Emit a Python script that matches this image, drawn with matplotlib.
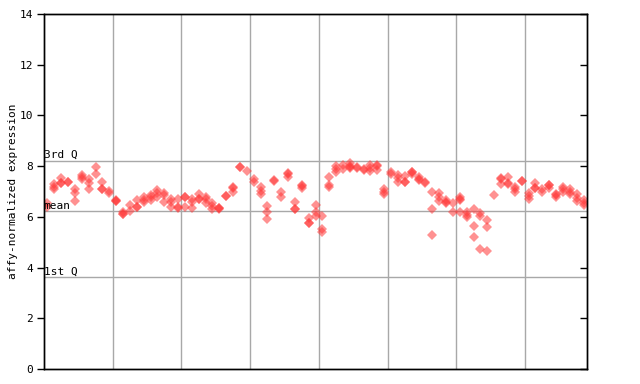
import numpy as np
import matplotlib
matplotlib.use('Agg')
import matplotlib.pyplot as plt

# expression values per sample (replicates)
samples = [
    [6.53, 6.37], [7.28, 7.18, 7.1], [7.52, 7.35, 7.35], [7.39, 7.39],
    [7.09, 6.95, 6.62], [7.65, 7.58, 7.48], [7.48, 7.32, 7.09], [7.98, 7.69],
    [7.36, 7.1, 7.1], [7.03, 6.93], [6.66, 6.62, 6.62], [6.19, 6.1, 6.12],
    [6.47, 6.22], [6.66, 6.4, 6.4], [6.79, 6.66, 6.58], [6.86, 6.77, 6.66],
    [7.06, 6.93, 6.79], [6.95, 6.86, 6.6], [6.69, 6.6, 6.38], [6.69, 6.38, 6.33],
    [6.77, 6.77, 6.38], [6.69, 6.6, 6.34], [6.9, 6.7, 6.7], [6.79, 6.69, 6.53],
    [6.53, 6.43, 6.3], [6.36, 6.32, 6.34], [6.83, 6.83], [7.18, 7.14, 6.99],
    [7.98, 7.96], [7.8], [7.48, 7.36], [7.16, 7.03, 6.89],
    [6.43, 6.2, 5.9], [7.44, 7.4], [7.0, 6.79], [7.73, 7.69, 7.56],
    [6.57, 6.32, 6.3], [7.24, 7.22, 7.12], [5.94, 5.77, 5.75], [6.47, 6.2, 6.03],
    [6.03, 5.52, 5.39], [7.56, 7.26, 7.16], [8.0, 7.87, 7.78], [8.04, 7.87],
    [8.11, 8.0, 7.98, 7.91], [7.95, 7.92], [7.88, 7.85], [8.04, 7.91, 7.82],
    [8.04, 8.02, 7.85], [7.09, 6.99, 6.9], [7.78, 7.69], [7.65, 7.52, 7.39],
    [7.61, 7.39, 7.37], [7.78, 7.76, 7.69], [7.58, 7.48, 7.46], [7.37, 7.35],
    [6.97, 6.3, 5.27], [6.93, 6.79, 6.64], [6.66, 6.58, 6.56], [6.56, 6.18],
    [6.77, 6.69, 6.67, 6.18], [6.18, 6.07, 5.98], [6.3, 5.63, 5.19], [6.14, 6.03, 4.72],
    [5.86, 5.59, 4.64], [6.86], [7.52, 7.5, 7.29], [7.56, 7.32, 7.3],
    [7.19, 7.09, 6.97], [7.42, 7.4], [6.95, 6.83, 6.72], [7.32, 7.15, 7.13],
    [7.1, 6.99], [7.27, 7.25, 7.12], [6.89, 6.87, 6.77], [7.19, 7.09, 6.99],
    [7.09, 6.99, 6.89], [6.89, 6.75, 6.64], [6.66, 6.56, 6.47],
]

q3 = 8.22
mean = 6.22
q1 = 3.62
ref_labels = ['3rd Q', 'mean', '1st Q']
yticks = [0, 2, 4, 6, 8, 10, 12, 14]
group_size = 10

xs = []
ys = []
for i, vals in enumerate(samples):
    for v in vals:
        xs.append(i)
        ys.append(v)

n = len(samples)
mono = 'DejaVu Sans Mono'

fig = plt.figure(figsize=(6.4, 3.84), dpi=100)
ax = fig.add_axes([44/640, 15/384, 543/640, 355/384])

ax.set_xlim(-0.5, n - 0.5)
ax.set_ylim(0, 14)

# group separators
for g in np.arange(group_size - 0.5, n - 1, group_size):
    ax.axvline(g, color='#a8a8a8', lw=1, zorder=1)

for val, lab in zip([q3, mean, q1], ref_labels):
    ax.axhline(val, color='#a8a8a8', lw=1, zorder=1)
    ax.text(-0.55, val + 0.03, lab, fontsize=8, family=mono,
            va='bottom', ha='left', zorder=3)

ax.plot(xs, ys, linestyle='none', marker='D', markersize=4.6,
        color='#ff3838', alpha=0.55, markeredgewidth=0, zorder=2)

ax.set_xticks([])
ax.set_yticks(yticks)
ax.tick_params(axis='y', direction='out', length=5, labelsize=8, width=1, pad=3)
for t in ax.get_yticklabels():
    t.set_family(mono)
ax.set_ylabel('affy-normalized expression', fontsize=8, family=mono, labelpad=1)

ax2 = ax.twinx()
ax2.set_ylim(0, 14)
ax2.set_yticks(yticks)
ax2.tick_params(axis='y', direction='in', length=5, labelright=False, width=1)

for a in (ax, ax2):
    for s in a.spines.values():
        s.set_linewidth(1)
        s.set_color('black')

fig.savefig('out.png', dpi=100)
